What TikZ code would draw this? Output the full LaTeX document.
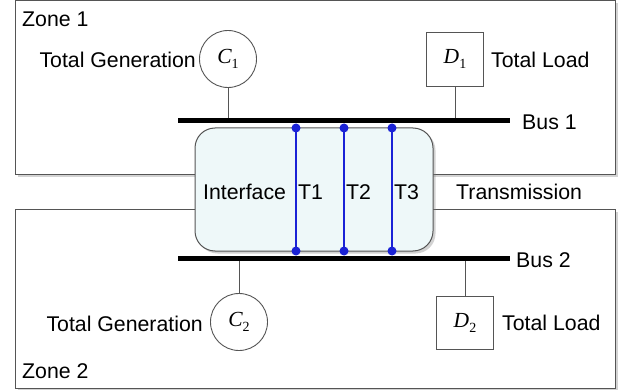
\documentclass[tikz,border=0pt]{standalone}
\usepackage{fontspec}
\setmainfont{Liberation Sans}
\newfontfamily\serifmath{Liberation Serif}
\usetikzlibrary{shadows}
\definecolor{edgegray}{HTML}{555555}
\definecolor{ifacefill}{HTML}{EEF8F9}
\definecolor{tblue}{HTML}{1A22D6}
\newcommand\mvar[2]{{\serifmath\itshape\fontsize{21.5}{21}\selectfont #1}{\serifmath\fontsize{14}{14}\selectfont\raisebox{-5pt}{#2}}}
\tikzset{
  zone/.style={draw=edgegray, line width=1pt, fill=white, inner sep=0pt,
    drop shadow={shadow xshift=2.5pt, shadow yshift=-2.5pt, opacity=0.35}},
  iface/.style={draw=edgegray, line width=1pt, fill=ifacefill, inner sep=0pt,
    rounded corners=20pt,
    drop shadow={shadow xshift=2.5pt, shadow yshift=-2.5pt, opacity=0.35}},
  gen/.style={circle, draw=edgegray, line width=0.9pt, fill=white, inner sep=0pt, minimum size=57pt},
  load/.style={rectangle, draw=edgegray, line width=0.9pt, fill=white, inner sep=0pt},
  lbl/.style={inner sep=0pt, font=\fontsize{21.3}{24}\selectfont},
  bus/.style={line width=5pt, black},
  conn/.style={draw=edgegray, line width=0.9pt},
  tline/.style={draw=tblue, line width=1.6pt},
  tdot/.style={fill=tblue},
}
\begin{document}
\begin{tikzpicture}[x=1pt,y=-1pt]
\useasboundingbox (0,0) rectangle (629,390);
% zones
\node[zone, minimum width=600pt, minimum height=174pt] (zone1) at (315,88) {};
\node[zone, minimum width=600pt, minimum height=178pt] (zone2) at (315,299) {};
% interface
\node[iface, minimum width=238pt, minimum height=123pt] (iface) at (314,189.5) {};
% buses
\coordinate (b1l) at (178,121);
\coordinate (b1r) at (510,121);
\coordinate (b2l) at (178,258);
\coordinate (b2r) at (510,258);
% equipment
\node[gen] (c1) at (228,59) {\mvar{C}{1}};
\node[load, minimum width=57pt, minimum height=54pt] (d1) at (455,59) {\mvar{D}{1}};
\node[gen] (c2) at (239,322) {\mvar{C}{2}};
\node[load, minimum width=57pt, minimum height=53pt] (d2) at (465,322.5) {\mvar{D}{2}};
\draw[conn] (c1.south) -- (c1.south |- b1l);
\draw[conn] (d1.south) -- (d1.south |- b1l);
\draw[conn] (c2.north) -- (c2.north |- b2l);
\draw[conn] (d2.north) -- (d2.north |- b2l);
\draw[bus] (b1l) -- (b1r);
\draw[bus] (b2l) -- (b2r);
% transmission lines
\foreach \n/\x in {1/296,2/344,3/392}{
  \coordinate (t\n a) at (\x,128);
  \coordinate (t\n b) at (\x,251);
  \draw[tline] (t\n a) -- (t\n b);
  \fill[tdot] (t\n a) circle (4.5pt);
  \fill[tdot] (t\n b) circle (4.5pt);
}
% labels
\node[lbl, anchor=base west] (z1) at (22,27) {Zone 1};
\node[lbl, anchor=base west] (z2) at (22,378) {Zone 2};
\node[lbl, anchor=base east] (tg1) at (196,68) {Total Generation};
\node[lbl, anchor=base west] (tl1) at (491,68) {Total Load};
\node[lbl, anchor=base east] (tg2) at (203,331) {Total Generation};
\node[lbl, anchor=base west] (tl2) at (502,330) {Total Load};
\node[lbl, anchor=base west] (bus1) at (522,130) {Bus 1};
\node[lbl, anchor=base west] (bus2) at (516,267) {Bus 2};
\node[lbl, anchor=base west] (ifl) at (203,200) {Interface};
\node[lbl, anchor=base west] (tt1) at (298,200) {T1};
\node[lbl, anchor=base west] (tt2) at (346,200) {T2};
\node[lbl, anchor=base west] (tt3) at (394,200) {T3};
\node[lbl, anchor=base west] (trans) at (456,200) {Transmission};
\end{tikzpicture}
\end{document}
